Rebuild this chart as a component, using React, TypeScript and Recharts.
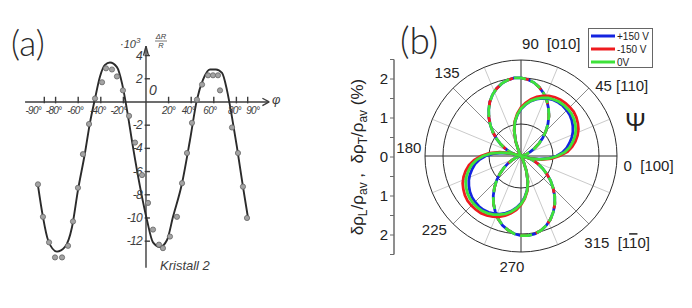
import React from 'react';
import {
  ComposedChart, Line, Scatter, XAxis, YAxis, ReferenceLine, ReferenceDot,
  RadarChart, Radar, PolarGrid, PolarAngleAxis, PolarRadiusAxis, LineChart,
} from 'recharts';

// ---------------- panel (a): Kristall 2 ----------------
const curvePhi = [-95.6, -91.2, -86.7, -78.8, -71.7, -65.5, -60.2, -54.0, -49.6, -45.1, -40.7, -36.3, -31.9, -25.7, -21.2, -16.8, -11.5, -5.3, 0.9, 6.2, 12.4, 18.6, 23.9, 31.9, 38.9, 45.1, 50.4, 56.6, 61.9, 67.3, 71.7, 76.1, 80.5, 85.8, 90.3];
const curveVal = [-7.2, -9.9, -11.9, -12.9, -12.5, -10.8, -7.6, -4.4, -1.8, 0.3, 2.2, 3.2, 3.4, 3.0, 1.6, -0.7, -3.9, -7.3, -10.2, -12.1, -12.5, -11.9, -9.9, -7.0, -3.3, 0.2, 1.9, 2.8, 2.8, 2.5, 1.0, -1.3, -3.9, -7.3, -10.0];
const pointPhi = [-95.6, -91.2, -85.8, -80.5, -74.3, -69.0, -64.6, -60.2, -55.8, -50.4, -45.1, -38.9, -35.4, -30.1, -25.7, -20.4, -15.0, -9.7, -3.5, 1.8, 6.2, 11.5, 15.0, 21.2, 27.4, 31.9, 36.3, 40.7, 45.1, 49.6, 54.9, 59.3, 63.7, 65.5, 76.1, 81.4, 85.8, 89.4];
const pointVal = [-7.1, -9.9, -12.1, -13.4, -13.4, -12.4, -10.3, -7.4, -4.5, -1.9, 0.3, 1.7, 2.9, 2.8, 2.2, 1.0, -1.2, -3.5, -6.3, -8.7, -11.0, -12.3, -12.6, -11.6, -9.9, -7.0, -4.4, -1.8, 0.2, 1.5, 2.3, 2.3, 2.3, 1.0, -2.2, -4.4, -7.3, -10.0];
const xTickVals = [-90, -80, -60, -40, -20, 20, 40, 60, 80, 90];
const xTickLabels = ['-90°', '-80°', '-60°', '-40°', '-20°', '20°', '40°', '60°', '80°', '90°'];
const yTickVals = [4, 2, -2, -4, -6, -8, -10, -12];
const yTickLabels = ['4', '2', '-2', '-4', '-6', '-8', '-10', '-12'];

const curveData = curvePhi.map((phi, i) => ({ phi, v: curveVal[i] }));
const pointData = pointPhi.map((phi, i) => ({ phi, v: pointVal[i] }));

// ---------------- panel (b): polar plot ----------------
const psi = [0, 5, 10, 15, 20, 25, 30, 35, 40, 45, 50, 55, 60, 65, 70, 75, 80, 85, 90, 95, 100, 105, 110, 115, 120, 125, 130, 135, 140, 145, 150, 155, 160, 165, 170, 175,
  180, 185, 190, 195, 200, 205, 210, 215, 220, 225, 230, 235, 240, 245, 250, 255, 260, 265, 270, 275, 280, 285, 290, 295, 300, 305, 310, 315, 320, 325, 330, 335, 340, 345, 350, 355];
// transverse lobes (all three voltages coincide)
const transT = [0.00, 0.04, 0.10, 0.21, 0.34, 0.50, 0.69, 0.89, 1.10, 1.31, 1.52, 1.72, 1.91, 2.08, 2.22, 2.33, 2.40, 2.44, 2.45, 2.41, 2.34, 2.24, 2.11, 1.95, 1.76, 1.56, 1.35, 1.14, 0.93, 0.73, 0.54, 0.37, 0.23, 0.12, 0.05, 0.01,
  0.00, 0.03, 0.09, 0.19, 0.32, 0.48, 0.66, 0.86, 1.08, 1.29, 1.51, 1.72, 1.91, 2.09, 2.24, 2.35, 2.44, 2.49, 2.50, 2.47, 2.41, 2.31, 2.18, 2.02, 1.84, 1.64, 1.42, 1.21, 0.99, 0.78, 0.59, 0.41, 0.27, 0.15, 0.06, 0.01];
// longitudinal lobes
const blueL = [1.30, 1.45, 1.57, 1.69, 1.79, 1.87, 1.94, 1.99, 2.02, 2.04, 2.04, 2.02, 1.98, 1.92, 1.84, 1.74, 1.61, 1.47, 1.29, 1.08, 0.81, 0.47, 0.16, 0, 0, 0, 0, 0, 0, 0, 0, 0.03, 0.26, 0.57, 0.87, 1.11,
  1.30, 1.46, 1.58, 1.70, 1.80, 1.88, 1.95, 2.00, 2.03, 2.05, 2.05, 2.03, 1.99, 1.93, 1.85, 1.75, 1.62, 1.48, 1.30, 1.09, 0.82, 0.48, 0.17, 0, 0, 0, 0, 0, 0, 0, 0, 0.03, 0.26, 0.57, 0.87, 1.11];
const redL = [1.45, 1.62, 1.76, 1.88, 1.98, 2.05, 2.11, 2.15, 2.16, 2.16, 2.15, 2.12, 2.07, 2.00, 1.91, 1.80, 1.67, 1.52, 1.33, 1.11, 0.83, 0.48, 0.16, 0, 0, 0, 0, 0, 0, 0, 0, 0.05, 0.32, 0.67, 0.99, 1.25,
  1.47, 1.65, 1.79, 1.91, 2.01, 2.08, 2.14, 2.18, 2.19, 2.19, 2.18, 2.14, 2.09, 2.02, 1.93, 1.82, 1.69, 1.53, 1.34, 1.12, 0.84, 0.49, 0.17, 0, 0, 0, 0, 0, 0, 0, 0, 0.05, 0.31, 0.64, 0.95, 1.20];
const greenL = [1.37, 1.54, 1.67, 1.79, 1.89, 1.96, 2.02, 2.06, 2.07, 2.08, 2.07, 2.04, 2.00, 1.93, 1.85, 1.75, 1.62, 1.48, 1.30, 1.09, 0.82, 0.48, 0.17, 0, 0, 0, 0, 0, 0, 0, 0, 0.04, 0.29, 0.62, 0.93, 1.18,
  1.39, 1.56, 1.69, 1.81, 1.91, 1.98, 2.04, 2.08, 2.10, 2.11, 2.10, 2.07, 2.02, 1.95, 1.87, 1.77, 1.64, 1.50, 1.32, 1.10, 0.83, 0.49, 0.18, 0, 0, 0, 0, 0, 0, 0, 0, 0.04, 0.28, 0.60, 0.89, 1.13];
const seriesNames = ['+150 V', '-150 V', '0V'];
const polarLabelAngles = [0, 45, 90, 135, 180, 225, 270, 315];
const polarLabelTexts = ['0  [100]', '45 [110]', '90  [010]', '135', '180', '225', '270', '315  [1'];
const leftAxisTicks = [-2.5, -2, -1.5, -1, -0.5, 0, 0.5, 1, 1.5, 2, 2.5];

const radarData = psi.map((a, i) => ({ psi: a, T: transT[i], bL: blueL[i], rL: redL[i], gL: greenL[i] }));

// ---------------- styles ----------------
const BLUE = '#1424e0';
const RED = '#ee1b1f';
const GREEN = '#3ee23a';
const INK = '#3c3c3c';
const SCAN_INK = '#3d3d3d';
const SCAN_FONT = '"Liberation Sans", Arial, sans-serif';
const SANS = '"Liberation Sans", Arial, sans-serif';

const gridLight = [22.5, 67.5, 112.5, 157.5, 202.5, 247.5, 292.5, 337.5];
const gridMid = [45, 135, 225, 315];
const gridDark = [0, 90, 180, 270];
const gridRadii = [32, 78, 96];
// label placement relative to angle-axis tick anchor: dx, dy, anchor
const polarPlace: [number, number, string][] = [
  [-1, 6, 'start'], [-5.5, 1.5, 'start'], [-8, -3, 'start'], [5.5, 1.5, 'end'],
  [4, 6, 'end'], [5.5, 12.5, 'end'], [0, 12, 'middle'], [-3.5, 12.5, 'start'],
];
// small horizontal nudges of the crowded x tick labels (px)
const xLabelNudge = [-11, -2, -3, -3, -5, 0, -3, -4, -2, 5];

const textShape = (text: string, dx: number, dy: number, anchor: string, size: number) => (props: any) => (
  <text x={props.cx + dx} y={props.cy + dy} textAnchor={anchor} fontSize={size} fontStyle="italic"
    fontFamily={SCAN_FONT} fill={SCAN_INK} letterSpacing={-0.7}>{text}</text>
);

const dotShape = (p: any) => (
  <circle cx={p.cx} cy={p.cy} r={2.6} fill="#a3a3a3" stroke="#666" strokeWidth={0.8} />
);

function PanelA() {
  const seg = { stroke: INK, strokeWidth: 1.4 };
  return (
    <ComposedChart width={346} height={308} margin={{ top: 0, right: 0, bottom: 0, left: 0 }}>
      <XAxis type="number" dataKey="phi" domain={[-129.2, 177]} allowDataOverflow hide />
      <YAxis type="number" dataKey="v" domain={[-17.76, 8.79]} allowDataOverflow hide />
      <ReferenceLine segment={[{ x: -107, y: 0 }, { x: 109, y: 0 }]} {...seg} />
      <ReferenceLine segment={[{ x: 109, y: 0 }, { x: 103, y: 0.32 }]} {...seg} />
      <ReferenceLine segment={[{ x: 109, y: 0 }, { x: 103, y: -0.32 }]} {...seg} />
      <ReferenceLine segment={[{ x: 0, y: 4.8 }, { x: 0, y: -14.3 }]} {...seg} />
      <ReferenceLine segment={[{ x: 0, y: 4.8 }, { x: -2.2, y: 4.0 }]} {...seg} />
      <ReferenceLine segment={[{ x: 0, y: 4.8 }, { x: 2.2, y: 4.0 }]} {...seg} />
      {xTickVals.map((t) => (
        <ReferenceLine key={'xt' + t} segment={[{ x: t, y: -0.12 }, { x: t, y: 0.45 }]} {...seg} />
      ))}
      {yTickVals.map((t) => (
        <ReferenceLine key={'yt' + t} segment={[{ x: -1.2, y: t }, { x: 3.5, y: t }]} {...seg} />
      ))}
      {xTickVals.map((t, i) => (
        <ReferenceDot key={'xl' + t} x={t} y={0} r={0} fill="none" stroke="none"
          shape={textShape(xTickLabels[i], xLabelNudge[i], 12, 'middle', 10)} />
      ))}
      {yTickVals.map((t, i) => (
        <ReferenceDot key={'yl' + t} x={0} y={t} r={0} fill="none" stroke="none"
          shape={textShape(yTickLabels[i], -4, 4, 'end', 12)} />
      ))}
      <Scatter data={pointData} dataKey="v" isAnimationActive={false} shape={dotShape} activeShape={dotShape} />
      <Line data={curveData} dataKey="v" type="monotone" stroke="#2b2b2b" strokeWidth={1.9}
        dot={false} activeDot={false} isAnimationActive={false} />
    </ComposedChart>
  );
}

const renderPolarTick = (props: any) => {
  const val = Number(props?.payload?.value);
  const idx = polarLabelAngles.indexOf(val);
  if (idx < 0) return <g />;
  const [dx, dy, anchor] = polarPlace[idx];
  const common = {
    x: props.x + dx, y: props.y + dy, textAnchor: anchor as any, fontSize: 15,
    fontFamily: SANS, fill: '#222', style: { whiteSpace: 'pre' as const },
  };
  if (idx === 7) {
    return (
      <text {...common}>
        {polarLabelTexts[idx]}
        <tspan style={{ textDecoration: 'overline' }}>1</tspan>
        0]
      </text>
    );
  }
  return <text {...common}>{polarLabelTexts[idx]}</text>;
};

function PanelB() {
  const lw = 2.8;
  return (
    <RadarChart width={346} height={308} cx={175} cy={156} outerRadius={96} innerRadius={0}
      startAngle={0} endAngle={360} data={radarData} margin={{ top: 0, right: 0, bottom: 0, left: 0 }}>
      <PolarGrid gridType="circle" polarAngles={gridLight} polarRadius={[]} stroke="#cacaca" strokeWidth={1} />
      <PolarGrid gridType="circle" polarAngles={gridMid} polarRadius={[]} stroke="#8c8c8c" strokeWidth={1} />
      <PolarGrid gridType="circle" polarAngles={gridDark} polarRadius={gridRadii} stroke="#2c2c2c" strokeWidth={1} />
      <PolarAngleAxis dataKey="psi" tick={renderPolarTick} tickLine={false} axisLine={false} />
      <PolarRadiusAxis domain={[0, 2.5]} allowDataOverflow tick={false} axisLine={false} />
      <Radar name={seriesNames[0]} dataKey="T" stroke={BLUE} fill="none" fillOpacity={0} strokeWidth={lw} dot={false} isAnimationActive={false} />
      <Radar name={seriesNames[1]} dataKey="T" stroke={RED} fill="none" fillOpacity={0} strokeWidth={lw} strokeDasharray="7 9" dot={false} isAnimationActive={false} />
      <Radar name={seriesNames[2]} dataKey="T" stroke={GREEN} fill="none" fillOpacity={0} strokeWidth={lw} strokeDasharray="12 5" strokeDashoffset={3} dot={false} isAnimationActive={false} />
      <Radar name={seriesNames[0]} dataKey="bL" stroke={BLUE} fill="none" fillOpacity={0} strokeWidth={lw} dot={false} isAnimationActive={false} />
      <Radar name={seriesNames[1]} dataKey="rL" stroke={RED} fill="none" fillOpacity={0} strokeWidth={lw} dot={false} isAnimationActive={false} />
      <Radar name={seriesNames[2]} dataKey="gL" stroke={GREEN} fill="none" fillOpacity={0} strokeWidth={lw} dot={false} isAnimationActive={false} />
    </RadarChart>
  );
}

function LeftAxisB() {
  return (
    <LineChart width={60} height={308} data={[]} margin={{ top: 59.5, right: 0, bottom: 53.5, left: 0 }}>
      <XAxis hide />
      <YAxis type="number" domain={[-2.5, 2.5]} allowDataOverflow ticks={leftAxisTicks} interval={0}
        width={48} tickSize={4} tickMargin={2}
        tickFormatter={(v: number) => (Number.isInteger(v) ? String(Math.abs(v)) : '')}
        axisLine={{ stroke: '#6a6a6a', strokeWidth: 1.5 }} tickLine={{ stroke: '#6a6a6a' }}
        tick={{ fill: '#222', fontSize: 15, fontFamily: SANS }} />
    </LineChart>
  );
}

function Overlay() {
  const sub = 12;
  return (
    <svg width={692} height={308} style={{ position: 'absolute', left: 0, top: 0, pointerEvents: 'none' }}>
      {/* panel (a) annotations */}
      <text x={11} y={56} fontSize={35} fontFamily="Lato, 'Open Sans', sans-serif" fontWeight={300} fill="#2a2a2a">(a)</text>
      <text x={120} y={48} fontSize={11} fontStyle="italic" fontFamily={SCAN_FONT} fill={SCAN_INK}>·10<tspan fontSize={8} dy={-5}>3</tspan></text>
      <text x={161} y={39} fontSize={7.5} fontStyle="italic" fontFamily={SCAN_FONT} fill={SCAN_INK} textAnchor="middle">ΔR</text>
      <line x1={155} x2={167} y1={41} y2={41} stroke="#555" strokeWidth={0.8} />
      <text x={161} y={48} fontSize={7.5} fontStyle="italic" fontFamily={SCAN_FONT} fill={SCAN_INK} textAnchor="middle">R</text>
      <text x={149} y={95} fontSize={14} fontStyle="italic" fontFamily={SCAN_FONT} fill={SCAN_INK}>0</text>
      <text x={272} y={104} fontSize={13} fontStyle="italic" fontFamily={SCAN_FONT} fill={SCAN_INK}>φ</text>
      <text x={160} y={270} fontSize={13} fontStyle="italic" fontFamily={SCAN_FONT} fill={SCAN_INK}>Kristall 2</text>
      {/* panel (b) annotations */}
      <text x={400} y={54} fontSize={37} fontFamily="Lato, 'Open Sans', sans-serif" fontWeight={300} fill="#2a2a2a">(b)</text>
      <text x={625} y={131} fontSize={25} fontFamily={SANS} fill="#222">Ψ</text>
      <text transform="translate(363,157) rotate(-90)" textAnchor="middle" fontSize={17} fontFamily={SANS} fill="#222" style={{ whiteSpace: 'pre' }}>
        δρ<tspan fontSize={sub} dy={4}>L</tspan><tspan dy={-4}>/ρ</tspan><tspan fontSize={sub} dy={4}>av</tspan><tspan dy={-4}>{' ,  δρ'}</tspan><tspan fontSize={sub} dy={4}>T</tspan><tspan dy={-4}>/ρ</tspan><tspan fontSize={sub} dy={4}>av</tspan><tspan dy={-4}>{' (%)'}</tspan>
      </text>
      {/* legend */}
      <rect x={588.5} y={28.5} width={64} height={39} fill="#fff" stroke="#666" strokeWidth={1} />
      {[BLUE, RED, GREEN].map((c, i) => (
        <g key={c}>
          <line x1={591} x2={615} y1={36 + i * 13} y2={36 + i * 13} stroke={c} strokeWidth={3} />
          <text x={617} y={39.5 + i * 13} fontSize={10} fontFamily={SANS} fill="#222">{seriesNames[i]}</text>
        </g>
      ))}
    </svg>
  );
}

export default function App() {
  return (
    <div style={{ position: 'fixed', left: 0, top: 0, width: 692, height: 308, background: '#fff', overflow: 'hidden' }}>
      <div style={{ position: 'absolute', left: 0, top: 0 }}><PanelA /></div>
      <div style={{ position: 'absolute', left: 346, top: 0 }}><PanelB /></div>
      <div style={{ position: 'absolute', left: 346, top: 0 }}><LeftAxisB /></div>
      <Overlay />
    </div>
  );
}
